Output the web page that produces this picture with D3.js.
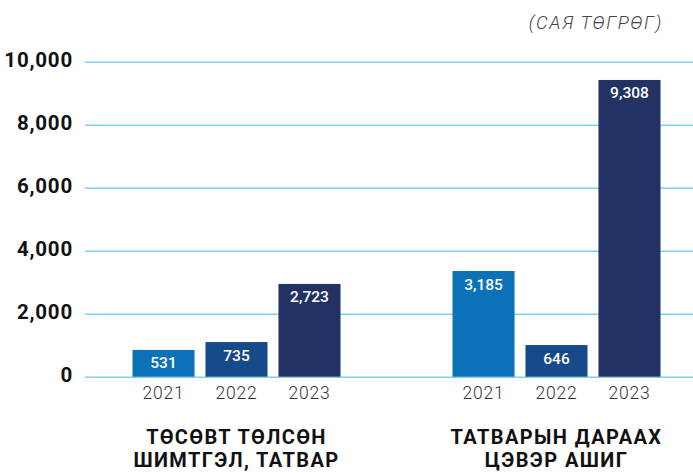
<!DOCTYPE html>
<html>
<head>
<meta charset="utf-8">
<script src="https://cdn.jsdelivr.net/npm/d3@7"></script>
<style>
  body { margin: 0; background: #fff; }
  text { font-family: Roboto, 'Open Sans', sans-serif; }
</style>
</head>
<body>
<div id="chart"></div>
<script>
const groups = ['ТӨСӨВТ ТӨЛСӨН\nШИМТГЭЛ, ТАТВАР', 'ТАТВАРЫН ДАРААХ\nЦЭВЭР АШИГ']
const years = ['2021', '2022', '2023']
// printed values on the bars
const labels = [
  [531, 735, 2723],
  [3185, 646, 9308]
]
// bar heights as drawn in the picture (not exactly the printed values)
const heights = [
  [850, 1100, 2945],
  [3355, 1005, 9420]
]
const yTicks = [0, 2000, 4000, 6000, 8000, 10000]
const colors = ['#0c72b8', '#164b8b', '#223263']

const width = 693
const height = 473

const svg = d3.select('#chart')
  .append('svg')
  .attr('width', width)
  .attr('height', height)

const yScale = d3.scaleLinear().domain([0, 10000]).range([376.7, 61.7])

const groupScale = d3.scaleBand()
  .domain(d3.range(groups.length))
  .range([76.5, 716.5])

const yearScale = d3.scaleBand()
  .domain(years)
  .range([-104, 104])
  .paddingInner(0.15)
  .paddingOuter(0)

const yAxis = d3.axisLeft(yScale)
  .tickValues(yTicks)
  .tickFormat(d3.format(','))
  .tickSize(608)
  .tickPadding(12)

svg.append('g')
  .attr('class', 'y-axis')
  .attr('transform', 'translate(693,0)')
  .call(yAxis)

svg.select('.y-axis .domain').remove()
svg.selectAll('.y-axis line')
  .attr('stroke', '#7ecff0')
  .attr('stroke-width', 1.6)
svg.selectAll('.y-axis text')
  .attr('fill', '#111')
  .attr('dy', '0.24em')
  .style('font-size', '20.5px')
  .style('font-weight', 700)
  .style('letter-spacing', '0.8px')

const data = []
groups.forEach((g, gi) => {
  years.forEach((yr, yi) => {
    data.push({ gi, yr, yi, label: labels[gi][yi], h: heights[gi][yi] })
  })
})

const cx = d => groupScale(d.gi) + groupScale.bandwidth() / 2 + yearScale(d.yr)

svg.selectAll('.bar')
  .data(data)
  .enter()
  .append('rect')
  .attr('class', 'bar')
  .attr('x', d => cx(d))
  .attr('y', d => yScale(d.h))
  .attr('width', yearScale.bandwidth())
  .attr('height', d => yScale(0) - yScale(d.h))
  .attr('fill', d => colors[d.yi])

svg.selectAll('.val')
  .data(data)
  .enter()
  .append('text')
  .attr('class', 'val')
  .attr('x', d => cx(d) + yearScale.bandwidth() / 2)
  .attr('y', d => yScale(d.h) + 18.5)
  .attr('text-anchor', 'middle')
  .attr('fill', '#fff')
  .style('font-size', '15.5px')
  .style('font-weight', 500)
  .text(d => d3.format(',')(d.label))

svg.selectAll('.year')
  .data(data)
  .enter()
  .append('text')
  .attr('class', 'year')
  .attr('x', d => cx(d) + yearScale.bandwidth() / 2)
  .attr('y', 398.5)
  .attr('text-anchor', 'middle')
  .attr('fill', '#333')
  .style('font-size', '17.5px')
  .style('font-weight', 300)
  .style('letter-spacing', '0.8px')
  .text(d => d.yr)

svg.selectAll('.group-label')
  .data(groups)
  .enter()
  .append('text')
  .attr('class', 'group-label')
  .attr('text-anchor', 'middle')
  .attr('fill', '#111')
  .style('font-size', '20px')
  .style('font-weight', 700)
  .style('letter-spacing', '1.4px')
  .each(function (d, i) {
    const x = groupScale(i) + groupScale.bandwidth() / 2
    d3.select(this).selectAll('tspan')
      .data(d.split('\n'))
      .enter()
      .append('tspan')
      .attr('x', x)
      .attr('y', (t, j) => 444 + j * 22.7)
      .text(t => t)
  })

svg.append('text')
  .attr('x', 663)
  .attr('y', 29)
  .attr('text-anchor', 'end')
  .attr('fill', '#444')
  .style('font-size', '18.5px')
  .style('font-weight', 300)
  .style('font-style', 'italic')
  .style('letter-spacing', '1.6px')
  .text('(САЯ ТӨГРӨГ)')
</script>
</body>
</html>
